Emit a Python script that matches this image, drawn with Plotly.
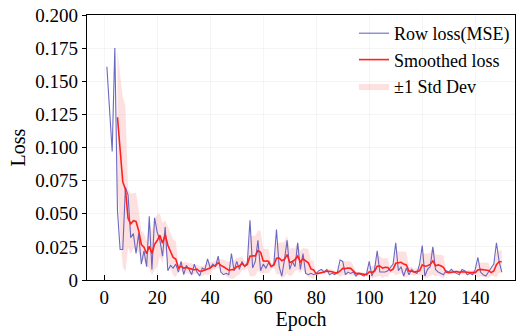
import plotly.graph_objects as go
import pandas as pd

epochs = list(range(1, 151))
raw_loss = [
    0.161, 0.129, 0.097, 0.175, 0.052, 0.023, 0.023, 0.070, 0.064, 0.032,
    0.035, 0.020, 0.035, 0.012, 0.022, 0.010, 0.048, 0.008, 0.047, 0.036,
    0.030, 0.018, 0.040, 0.007, 0.011, 0.009, 0.012, 0.006, 0.014, 0.004,
    0.011, 0.008, 0.004, 0.012, 0.006, 0.003, 0.009, 0.008, 0.016, 0.009,
    0.012, 0.010, 0.018, 0.006, 0.004, 0.005, 0.004, 0.020, 0.007, 0.014,
    0.008, 0.014, 0.010, 0.013, 0.045, 0.009, 0.014, 0.030, 0.007, 0.012,
    0.009, 0.013, 0.010, 0.012, 0.038, 0.010, 0.003, 0.015, 0.030, 0.008,
    0.014, 0.010, 0.028, 0.008, 0.020, 0.005, 0.004, 0.005, 0.004, 0.005,
    0.007, 0.008, 0.006, 0.008, 0.004, 0.005, 0.004, 0.006, 0.015, 0.014,
    0.004, 0.006, 0.005, 0.006, 0.003, 0.005, 0.004, 0.003, 0.005, 0.014,
    0.003, 0.008, 0.022, 0.006, 0.006, 0.006, 0.007, 0.010, 0.012, 0.028,
    0.007, 0.010, 0.003, 0.009, 0.004, 0.008, 0.006, 0.005, 0.012, 0.026,
    0.003, 0.008, 0.010, 0.025, 0.008, 0.006, 0.005, 0.004, 0.007, 0.006,
    0.008, 0.006, 0.005, 0.004, 0.008, 0.007, 0.004, 0.005, 0.004, 0.008,
    0.017, 0.006, 0.004, 0.003, 0.006, 0.009, 0.012, 0.028, 0.014, 0.006,
]
window = 5
y_tick_vals = [0, 0.025, 0.05, 0.075, 0.1, 0.125, 0.15, 0.175, 0.2]
y_tick_text = ["0", "0.025", "0.050", "0.075", "0.100", "0.125", "0.150", "0.175", "0.200"]
x_tick_vals = [0, 20, 40, 60, 80, 100, 120, 140]
x_tick_text = [str(v) for v in x_tick_vals]

s = pd.Series(raw_loss, index=epochs)
smooth = s.rolling(window).mean().dropna()
std = s.rolling(window).std().dropna()
sx = list(smooth.index)
upper = list(smooth + std)
lower = list(smooth - std)

FONT = "Liberation Serif"
tf = dict(family=FONT, size=19, color="black")
fig = go.Figure()
fig.add_trace(go.Scatter(x=sx + sx[::-1], y=upper + lower[::-1], fill="toself",
                         fillcolor="rgba(245,120,120,0.22)", line=dict(width=0),
                         name="±1 Std Dev", hoverinfo="skip", legendrank=3))
fig.add_trace(go.Scatter(x=epochs, y=raw_loss, mode="lines",
                         line=dict(color="rgba(80,80,185,0.85)", width=1.1),
                         name="Row loss(MSE)", legendrank=1))
fig.add_trace(go.Scatter(x=sx, y=list(smooth), mode="lines",
                         line=dict(color="#ff2020", width=1.6),
                         name="Smoothed loss", legendrank=2))

fig.update_layout(
    template="none",
    width=520, height=332,
    margin=dict(l=87, r=5, t=15, b=52),
    paper_bgcolor="white", plot_bgcolor="white",
    font=dict(family=FONT, size=17, color="black"),
    showlegend=True,
    legend=dict(x=1.0, y=1.0, xanchor="right", yanchor="top",
                bgcolor="rgba(255,255,255,0)", borderwidth=0,
                font=dict(family=FONT, size=18, color="black"), itemwidth=30,
                tracegroupgap=0),
    xaxis=dict(range=[-6.5, 155], tickmode="array", tickvals=x_tick_vals, ticktext=x_tick_text,
               ticks="inside", ticklen=5, tickcolor="black",
               showline=True, linecolor="black", linewidth=1.2, mirror=True,
               showgrid=True, gridcolor="rgba(0,0,0,0.04)", zeroline=False,
               title=dict(text="Epoch", font=dict(family=FONT, size=20, color="black"), standoff=2),
               tickfont=tf),
    yaxis=dict(range=[0, 0.2], tickmode="array", tickvals=y_tick_vals, ticktext=y_tick_text,
               ticks="outside", ticklen=4, tickcolor="black",
               showline=True, linecolor="black", linewidth=1.2, mirror=True,
               showgrid=True, gridcolor="rgba(0,0,0,0.04)", zeroline=False,
               title=dict(text="Loss", font=dict(family=FONT, size=20, color="black"), standoff=4),
               tickfont=tf),
)

fig.write_html("out.html")
